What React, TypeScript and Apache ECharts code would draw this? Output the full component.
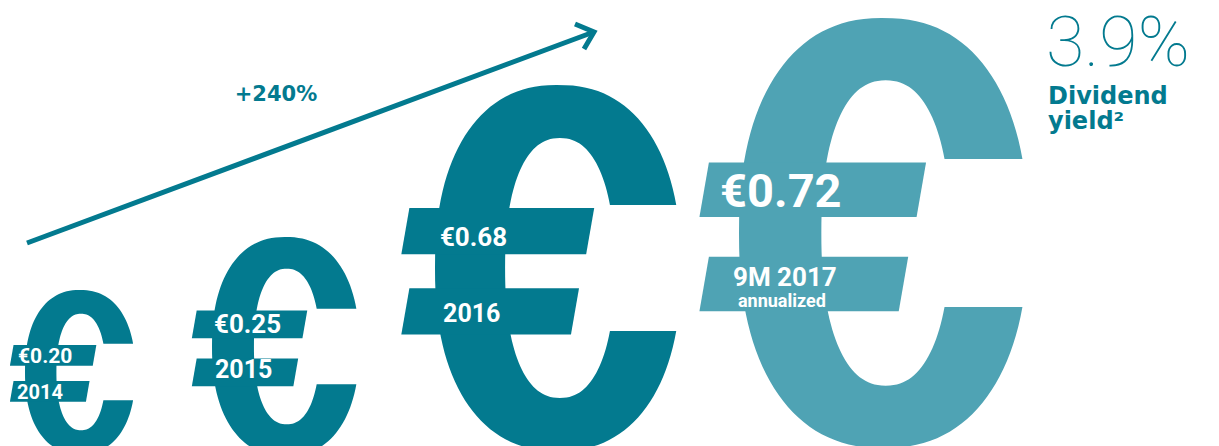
import React, { useEffect, useRef } from "react";
import * as echarts from "echarts";

// ---- data ----
const categories = ["2014", "2015", "2016", "9M 2017"];
const dividends = [0.2, 0.25, 0.68, 0.72];
const subLabels = ["", "", "", "annualized"];
const dividendYield = 3.9;
const yieldLines = ["Dividend", "yield²"];

// ---- layout (pixel frame of the hidden axes) ----
const glyphLeft = [25, 212, 435, 739];
const glyphMidY = [372, 346.5, 268, 233];
const glyphHalf = [82, 109.5, 183, 215];
const glyphColor = ["#037a8f", "#037a8f", "#037a8f", "#4fa3b4"];
const valueFont = [21, 26, 26, 47];
const yearFont = [20, 25, 25, 26];
const valueDX = [-0.085, 0.018, 0.027, -0.088];
const yearDX = [-0.098, 0.027, 0.044, -0.028];
const valueDY = [-0.19, -0.205, -0.172, -0.2];
const yearDY = [0.245, 0.21, 0.246, 0.205];

const DARK = "#037a8f";
const LABEL_FONT = "Roboto";

function sp(v: number, p: number) {
  return Math.sign(v) * Math.pow(Math.abs(v), p);
}

function cShape(L: number, Cy: number, s: number) {
  const n = 2.3;
  const ao = 0.672 * s;
  const cxo = L + ao;
  const bo = s;
  const ai = 0.2995 * s;
  const cxi = L + 0.6825 * s;
  const bi = 0.71 * s;
  const t = 0.344;
  const th0 = Math.asin(Math.pow(t, n / 2));
  const ph0 = Math.asin(Math.pow((t * s) / bi, n / 2));
  const pts: number[][] = [];
  const N = 120;
  for (let k = 0; k <= N; k++) {
    const th = th0 + ((2 * Math.PI - 2 * th0) * k) / N;
    pts.push([cxo + ao * sp(Math.cos(th), 2 / n), Cy - bo * sp(Math.sin(th), 2 / n)]);
  }
  for (let k = 0; k <= N; k++) {
    const ph = 2 * Math.PI - ph0 - ((2 * Math.PI - 2 * ph0) * k) / N;
    pts.push([cxi + ai * sp(Math.cos(ph), 2 / n), Cy - bi * sp(Math.sin(ph), 2 / n)]);
  }
  return pts;
}

function txt(x: number, y: number, text: string, size: number, fill: string, family: string, weight: any, align = "left") {
  return {
    type: "text",
    x,
    y,
    style: {
      text,
      fill,
      fontSize: size,
      fontFamily: family,
      fontWeight: weight,
      align,
      textAlign: align,
      verticalAlign: "middle",
      textVerticalAlign: "middle",
    },
  };
}

export default function App() {
  const ref = useRef<HTMLDivElement>(null);
  useEffect(() => {
    if (!ref.current) return;
    const chart = echarts.init(ref.current, undefined, { renderer: "svg" });
    const growth = Math.round((dividends[2] / dividends[0] - 1) * 100);
    chart.setOption({
      animation: false,
      grid: { left: 0, right: 0, top: 0, bottom: 0 },
      xAxis: { type: "value", min: 0, max: 1219, show: false },
      yAxis: { type: "value", min: 0, max: 446, inverse: true, show: false },
      series: [
        {
          type: "custom",
          clip: false,
          data: categories.map((c, i) => [i, dividends[i]]),
          renderItem: (params: any, api: any) => {
            const i = api.value(0);
            const v = api.value(1);
            const [L, Cy] = api.coord([glyphLeft[i], glyphMidY[i]]);
            const s = api.size([0, glyphHalf[i]])[1];
            const col = glyphColor[i];
            const P = (x: number, y: number) => [L + x * s, Cy + y * s];
            const children: any[] = [
              { type: "polygon", shape: { points: cShape(L, Cy, s) }, style: { fill: col } },
              {
                type: "polygon",
                shape: { points: [P(-0.14, -0.328), P(0.87, -0.328), P(0.826, -0.075), P(-0.184, -0.075)] },
                style: { fill: col },
              },
              {
                type: "polygon",
                shape: { points: [P(-0.14, 0.11), P(0.787, 0.11), P(0.743, 0.364), P(-0.184, 0.364)] },
                style: { fill: col },
              },
              txt(L + valueDX[i] * s, Cy + valueDY[i] * s, "€" + v.toFixed(2), valueFont[i], "#ffffff", LABEL_FONT, "bold"),
              txt(L + yearDX[i] * s, Cy + yearDY[i] * s, categories[i], yearFont[i], "#ffffff", LABEL_FONT, "bold"),
            ];
            if (subLabels[i]) {
              children.push(txt(L + (yearDX[i] + 0.023) * s, Cy + 0.314 * s, subLabels[i], 18, "#ffffff", LABEL_FONT, "bold"));
            }
            return { type: "group", children };
          },
        },
      ],
      graphic: [
        {
          type: "line",
          shape: { x1: 27, y1: 243, x2: 591, y2: 33 },
          style: { stroke: DARK, lineWidth: 5 },
        },
        {
          type: "polyline",
          shape: { points: [[575, 24], [594, 32], [584, 49]] },
          style: { stroke: DARK, lineWidth: 5, fill: null, lineJoin: "miter" },
        },
        {
          type: "text",
          x: 276,
          y: 94,
          style: {
            text: "+" + growth + "%",
            fill: DARK,
            fontSize: 21,
            fontFamily: "DejaVu Sans",
            fontWeight: "bold",
            align: "center",
            textAlign: "center",
            verticalAlign: "middle",
            textVerticalAlign: "middle",
          },
        },
        {
          type: "text",
          x: 1046,
          y: 41.5,
          style: {
            text: dividendYield.toFixed(1) + "%",
            fill: DARK,
            fontSize: 70,
            fontFamily: "Roboto",
            fontWeight: 100,
            align: "left",
            textAlign: "left",
            verticalAlign: "middle",
            textVerticalAlign: "middle",
          },
        },
        {
          type: "text",
          x: 1048,
          y: 95.5,
          style: {
            text: yieldLines[0],
            fill: DARK,
            fontSize: 24,
            fontFamily: "DejaVu Sans",
            fontWeight: "bold",
            align: "left",
            textAlign: "left",
            verticalAlign: "middle",
            textVerticalAlign: "middle",
          },
        },
        {
          type: "text",
          x: 1048,
          y: 121,
          style: {
            text: yieldLines[1],
            fill: DARK,
            fontSize: 24,
            fontFamily: "DejaVu Sans",
            fontWeight: "bold",
            align: "left",
            textAlign: "left",
            verticalAlign: "middle",
            textVerticalAlign: "middle",
          },
        },
      ],
    });
    return () => chart.dispose();
  }, []);
  return (
    <div
      ref={ref}
      style={{ position: "absolute", left: 0, top: 0, width: 1219, height: 446, background: "#ffffff" }}
    />
  );
}
